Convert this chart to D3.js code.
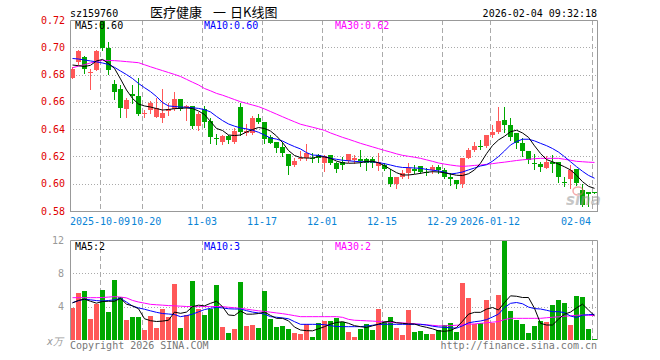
<!DOCTYPE html>
<html lang="zh">
<head>
    <meta charset="UTF-8">
    <title>sz159760</title>
    <script src="https://d3js.org/d3.v7.min.js"></script>
    <style>
        body { margin: 0; background: #fff; }
        text { font-family: "DejaVu Sans Mono", monospace; font-size: 10px; }
        .grid-h { stroke: #aaa; stroke-dasharray: 1,2; }
        .grid-v { stroke: #aaa; stroke-dasharray: 5,3; }
        .frame { fill: none; stroke: #999; }
        .ma { fill: none; stroke-width: 1; }
    </style>
</head>
<body>
<script>

    // trading days shown
    var dates = ["2025-09-24","2025-09-25","2025-09-26","2025-09-29","2025-09-30",
        "2025-10-09","2025-10-10","2025-10-13","2025-10-14","2025-10-15","2025-10-16","2025-10-17",
        "2025-10-20","2025-10-21","2025-10-22","2025-10-23","2025-10-24","2025-10-27","2025-10-28",
        "2025-10-29","2025-10-30","2025-10-31","2025-11-03","2025-11-04","2025-11-05","2025-11-06",
        "2025-11-07","2025-11-10","2025-11-11","2025-11-12","2025-11-13","2025-11-14","2025-11-17",
        "2025-11-18","2025-11-19","2025-11-20","2025-11-21","2025-11-24","2025-11-25","2025-11-26",
        "2025-11-27","2025-11-28","2025-12-01","2025-12-02","2025-12-03","2025-12-04","2025-12-05",
        "2025-12-08","2025-12-09","2025-12-10","2025-12-11","2025-12-12","2025-12-15","2025-12-16",
        "2025-12-17","2025-12-18","2025-12-19","2025-12-22","2025-12-23","2025-12-24","2025-12-25",
        "2025-12-26","2025-12-29","2025-12-30","2025-12-31","2026-01-05","2026-01-06","2026-01-07",
        "2026-01-08","2026-01-09","2026-01-12","2026-01-13","2026-01-14","2026-01-15","2026-01-16",
        "2026-01-19","2026-01-20","2026-01-21","2026-01-22","2026-01-23","2026-01-26","2026-01-27",
        "2026-01-28","2026-01-29","2026-01-30","2026-02-02","2026-02-03","2026-02-04"];

    var open = [.6775,.6889,.6931,.6810,.6834,.7193,.6995,.6729,.6694,.6546,.6658,.6643,.6509,.6540,
        .6487,.6480,.6533,.6546,.6619,.6560,.6570,.6425,.6546,.6462,.6333,.6308,.6350,.6308,.6565,
        .6370,.6370,.6484,.6450,.6345,.6308,.6271,.6218,.6137,.6179,.6186,.6191,.6210,.6154,.6210,
        .6154,.6161,.6167,.6174,.6179,.6179,.6179,.6130,.6137,.6051,.6000,.6051,.6081,.6106,.6130,
        .6088,.6101,.6125,.6101,.6051,.6027,.6000,.6191,.6247,.6277,.6277,.6357,.6381,.6467,.6430,
        .6370,.6296,.6240,.6154,.6142,.6117,.6161,.6157,.6015,.6032,.6106,.5954,.5942,.5940];
    var high = [.6858,.6980,.6939,.6839,.6980,.7200,.7040,.6760,.6724,.6630,.6724,.6777,.6541,.6606,
        .6626,.6692,.6594,.6675,.6619,.6577,.6570,.6528,.6570,.6480,.6362,.6357,.6357,.6406,.6592,
        .6438,.6496,.6511,.6455,.6357,.6308,.6308,.6218,.6186,.6242,.6291,.6227,.6218,.6210,.6210,
        .6161,.6198,.6218,.6210,.6247,.6186,.6198,.6227,.6154,.6106,.6051,.6101,.6150,.6137,.6130,
        .6113,.6137,.6137,.6113,.6076,.6027,.6191,.6260,.6308,.6321,.6357,.6430,.6560,.6565,.6480,
        .6370,.6333,.6240,.6218,.6161,.6205,.6210,.6157,.6051,.6137,.6106,.6000,.5942,.5942];
    var low = [.6773,.6880,.6814,.6694,.6830,.6980,.6804,.6620,.6491,.6491,.6594,.6504,.6491,.6520,
        .6487,.6455,.6504,.6540,.6540,.6467,.6406,.6394,.6418,.6301,.6289,.6289,.6296,.6301,.6357,
        .6357,.6365,.6447,.6296,.6296,.6235,.6203,.6071,.6130,.6174,.6174,.6161,.6161,.6095,.6145,
        .6088,.6106,.6159,.6154,.6130,.6101,.6125,.6101,.6101,.5986,.5969,.6039,.6044,.6076,.6076,
        .6064,.6081,.6076,.6039,.5991,.5969,.5974,.6186,.6242,.6252,.6272,.6345,.6374,.6381,.6321,
        .6260,.6203,.6150,.6106,.6095,.6117,.6088,.6015,.5986,.5969,.5990,.5837,.5837,.5935];
    var close = [.6840,.6973,.6839,.6822,.6973,.6995,.6834,.6675,.6552,.6614,.6645,.6511,.6521,.6594,
        .6557,.6521,.6546,.6619,.6546,.6570,.6425,.6511,.6455,.6345,.6326,.6350,.6321,.6387,.6376,
        .6389,.6484,.6455,.6328,.6301,.6264,.6223,.6130,.6167,.6191,.6227,.6179,.6191,.6203,.6154,
        .6106,.6137,.6218,.6191,.6167,.6154,.6154,.6161,.6106,.6000,.6051,.6076,.6113,.6093,.6088,
        .6076,.6125,.6101,.6051,.6032,.6000,.6191,.6247,.6277,.6271,.6357,.6381,.6462,.6430,.6345,
        .6296,.6242,.6174,.6145,.6120,.6161,.6145,.6051,.6003,.6101,.6003,.5844,.5922,.5937];

    // price moving averages
    var ma5 = [.6870,.6865,.6859,.6868,.6900,.6911,.6881,.6845,.6768,.6687,.6625,.6584,.6570,.6562,
        .6551,.6540,.6544,.6550,.6553,.6555,.6551,.6533,.6507,.6456,.6405,.6390,.6357,.6353,.6357,
        .6379,.6397,.6412,.6405,.6386,.6350,.6302,.6243,.6207,.6191,.6188,.6188,.6199,.6196,.6186,
        .6166,.6153,.6150,.6151,.6154,.6163,.6165,.6153,.6132,.6106,.6081,.6064,.6064,.6069,.6076,
        .6084,.6088,.6086,.6080,.6071,.6062,.6060,.6073,.6101,.6150,.6220,.6280,.6321,.6348,.6381,
        .6392,.6372,.6340,.6278,.6222,.6177,.6161,.6144,.6124,.6101,.6062,.6015,.5981,.5966];
    var ma10 = [.6918,.6914,.6907,.6900,.6893,.6885,.6874,.6853,.6826,.6800,.6771,.6735,.6704,.6675,
        .6639,.6595,.6570,.6566,.6562,.6560,.6557,.6552,.6543,.6526,.6493,.6463,.6438,.6422,.6409,
        .6402,.6392,.6377,.6357,.6335,.6327,.6313,.6291,.6272,.6255,.6228,.6210,.6208,.6199,.6186,
        .6179,.6172,.6168,.6164,.6161,.6161,.6160,.6155,.6147,.6137,.6126,.6119,.6118,.6115,.6113,
        .6105,.6099,.6094,.6084,.6071,.6077,.6086,.6101,.6115,.6130,.6139,.6165,.6199,.6240,.6284,
        .6309,.6326,.6326,.6314,.6296,.6279,.6258,.6232,.6198,.6161,.6125,.6091,.6061,.6040];
    var ma30 = [.6850,.6862,.6873,.6885,.6897,.6905,.6903,.6902,.6899,.6895,.6891,.6887,.6872,.6857,
        .6843,.6829,.6815,.6801,.6786,.6765,.6744,.6724,.6698,.6681,.6662,.6649,.6633,.6617,.6601,
        .6589,.6577,.6565,.6548,.6529,.6510,.6491,.6472,.6454,.6436,.6425,.6414,.6403,.6391,.6372,
        .6356,.6340,.6326,.6311,.6296,.6283,.6270,.6257,.6244,.6232,.6219,.6208,.6201,.6194,.6186,
        .6175,.6164,.6152,.6144,.6137,.6131,.6127,.6130,.6134,.6137,.6142,.6147,.6153,.6158,.6164,
        .6170,.6175,.6179,.6183,.6186,.6186,.6186,.6186,.6179,.6172,.6164,.6161,.6158,.6156];

    // volume (万) and its moving averages
    var volume = [3.88,5.68,5.88,2.52,4.32,6.00,3.36,7.20,5.20,2.40,2.76,2.76,1.20,2.88,1.44,3.72,
        2.76,6.72,1.44,3.00,7.08,3.72,3.00,3.72,6.60,1.56,0.84,1.32,6.96,1.68,1.80,1.44,5.88,2.52,
        1.56,1.68,1.32,0.84,0.72,1.88,0.36,2.04,2.28,2.28,2.64,2.16,0.96,0.36,1.32,1.92,1.20,3.72,
        2.28,2.76,1.44,0.60,3.60,0.96,1.08,0.72,0.72,1.20,1.80,2.04,0.96,6.84,5.04,1.92,2.04,4.80,
        2.04,5.40,11.88,3.48,2.40,1.92,0.84,1.68,2.28,2.12,4.20,4.80,4.44,1.80,5.28,5.16,1.32,0.12];
    var vma5 = [4.45,4.75,4.90,4.65,4.42,4.62,4.65,4.65,5.00,4.30,4.10,3.75,2.55,2.32,2.22,2.27,
        2.37,3.35,3.20,3.35,4.00,4.18,4.10,4.40,4.65,4.00,3.00,2.94,3.48,3.10,3.10,3.18,3.35,2.95,
        2.60,2.60,2.30,1.55,1.20,1.12,1.10,1.35,1.60,1.90,2.10,2.20,2.00,1.72,1.60,1.50,1.70,1.90,
        2.14,2.28,2.07,2.00,1.93,1.92,1.68,1.52,1.34,1.10,1.05,1.13,1.50,2.25,3.10,3.32,3.32,3.70,
        3.90,3.60,4.50,5.30,5.25,5.10,5.10,3.80,2.00,1.80,1.80,2.50,3.10,3.35,3.85,4.30,3.60,2.90];
    var vma10 = [4.48,4.72,4.90,4.82,4.73,4.68,4.74,4.82,5.00,4.55,4.07,3.85,3.69,3.50,3.32,3.18,
        3.12,3.05,2.80,2.92,3.10,3.38,3.65,3.80,3.92,3.85,3.75,3.72,3.72,3.52,3.35,3.25,3.10,2.80,
        2.73,2.65,2.55,2.20,1.88,1.88,1.88,1.88,1.84,1.72,1.62,1.60,1.60,1.60,1.60,1.68,1.77,1.86,
        1.89,1.89,1.88,1.88,1.88,1.88,1.88,1.80,1.66,1.56,1.52,1.47,1.42,1.70,2.06,2.19,2.28,2.44,
        2.76,3.10,3.90,4.40,4.50,4.35,3.95,3.77,3.72,3.57,3.40,3.40,3.28,2.88,2.70,2.98,3.04,3.08];
    var vma30 = [5.08,5.08,5.08,5.08,5.08,5.10,5.15,5.20,5.15,5.05,4.75,4.56,4.42,4.28,4.23,4.18,
        4.13,4.10,4.06,4.02,4.00,4.00,4.01,4.01,4.02,4.00,3.93,3.87,3.80,3.70,3.60,3.50,3.43,3.34,
        3.25,3.16,3.05,2.92,2.80,2.80,2.80,2.80,2.80,2.80,2.80,2.72,2.48,2.37,2.34,2.30,2.27,2.22,
        2.17,2.12,2.08,2.05,2.01,1.95,1.89,1.82,1.76,1.70,1.70,1.73,1.77,1.82,1.88,1.93,2.00,2.07,
        2.14,2.21,2.45,2.60,2.60,2.60,2.60,2.60,2.60,2.67,2.73,2.78,2.85,2.90,2.97,3.00,2.96,2.93];

    var priceTicks = [0.58, 0.60, 0.62, 0.64, 0.66, 0.68, 0.70, 0.72];
    var volTicks = [4, 8, 12];
    var tickDates = ["2025-10-09","2025-10-20","2025-11-03","2025-11-17","2025-12-01",
        "2025-12-15","2025-12-29","2026-01-12","2026-02-04"];
    var tickLabels = ["2025-10-09","10-20","11-03","11-17","12-01","12-15","12-29","2026-01-12","02-04"];

    var upColor = "#ff5858", downColor = "#00a800";

    // panel geometry
    var left = 70, right = 597;
    var pTop = 20, pBottom = 211;
    var vTop = 240, vBottom = 340;

    var svg = d3.select("body").append("svg")
        .attr("width", 660)
        .attr("height", 360);

    svg.append("rect").attr("width", 660).attr("height", 360).attr("fill", "#fff");

    var x = d3.scaleBand()
        .domain(dates)
        .range([left, right])
        .paddingInner(1 / 6)
        .paddingOuter(0);

    var y = d3.scaleLinear().domain([0.58, 0.72]).range([pBottom, pTop]);
    var yv = d3.scaleLinear().domain([0, 12]).range([vBottom, vTop]);

    var mid = function(i) { return x(dates[i]) + 2.5; };
    var px = function(v) { return Math.round(v) + 0.5; };

    // horizontal grid
    svg.append("g").selectAll("line")
        .data(priceTicks.slice(1, -1))
        .join("line")
        .attr("class", "grid-h")
        .attr("x1", left).attr("x2", right)
        .attr("y1", function(d) { return px(y(d)); })
        .attr("y2", function(d) { return px(y(d)); });

    svg.append("g").selectAll("line")
        .data(volTicks.slice(0, -1))
        .join("line")
        .attr("class", "grid-h")
        .attr("x1", left).attr("x2", right)
        .attr("y1", function(d) { return px(yv(d)); })
        .attr("y2", function(d) { return px(yv(d)); });

    // vertical grid through both panels
    var vg = svg.append("g");
    [[pTop, pBottom], [vTop, vBottom]].forEach(function(r) {
        vg.append("g").selectAll("line")
            .data(tickDates)
            .join("line")
            .attr("class", "grid-v")
            .attr("x1", function(d) { return x(d) + 0.5; })
            .attr("x2", function(d) { return x(d) + 0.5; })
            .attr("y1", r[0]).attr("y2", r[1]);
    });

    // candles
    var idx = d3.range(dates.length);
    var candles = svg.append("g").selectAll("g")
        .data(idx)
        .join("g")
        .attr("fill", function(i) { return close[i] >= open[i] ? upColor : downColor; })
        .attr("stroke", function(i) { return close[i] >= open[i] ? upColor : downColor; });

    candles.append("line")
        .attr("x1", mid).attr("x2", mid)
        .attr("y1", function(i) { return Math.round(y(high[i])); })
        .attr("y2", function(i) { return Math.round(y(low[i])) + 1; });

    candles.append("rect")
        .attr("stroke", "none")
        .attr("x", function(i) { return x(dates[i]); })
        .attr("width", x.bandwidth())
        .attr("y", function(i) { return Math.round(y(Math.max(open[i], close[i]))); })
        .attr("height", function(i) {
            return Math.max(1, Math.round(y(Math.min(open[i], close[i]))) - Math.round(y(Math.max(open[i], close[i]))));
        });

    // price MA lines
    var pline = function(arr) {
        return d3.line().x(function(d, i) { return mid(i); }).y(function(d) { return y(d); })(arr);
    };
    [[ma30, "#ff00ff"], [ma10, "#0000ff"], [ma5, "#000"]].forEach(function(m) {
        svg.append("path").attr("class", "ma").attr("stroke", m[1]).attr("d", pline(m[0]));
    });

    // volume bars
    svg.append("g").selectAll("rect")
        .data(idx)
        .join("rect")
        .attr("fill", function(i) { return close[i] >= open[i] ? upColor : downColor; })
        .attr("x", function(i) { return x(dates[i]); })
        .attr("width", x.bandwidth())
        .attr("y", function(i) { return Math.round(yv(volume[i])); })
        .attr("height", function(i) { return vBottom - Math.round(yv(volume[i])); });

    var vline = function(arr) {
        return d3.line().x(function(d, i) { return mid(i); }).y(function(d) { return yv(d); })(arr);
    };
    [[vma30, "#ff00ff"], [vma10, "#0000ff"], [vma5, "#000"]].forEach(function(m) {
        svg.append("path").attr("class", "ma").attr("stroke", m[1]).attr("d", vline(m[0]));
    });

    // sina watermark
    var wm = svg.append("g").attr("opacity", 0.55);
    wm.append("ellipse").attr("cx", 578).attr("cy", 191).attr("rx", 5).attr("ry", 4)
        .attr("fill", "none").attr("stroke", "#e66").attr("stroke-width", 1.5);
    wm.append("text").attr("x", 566).attr("y", 205)
        .style("font-family", "DejaVu Sans").style("font-size", "15px")
        .style("font-weight", "bold").style("font-style", "italic")
        .attr("fill", "#999").text("sina");

    // frames
    svg.append("path").attr("class", "frame")
        .attr("d", "M" + (left + 0.5) + "," + pBottom + "V" + (pTop + 0.5) + "H" + (right + 0.5) + "V" + pBottom);
    svg.append("line").attr("class", "frame")
        .attr("x1", left).attr("x2", right + 1).attr("y1", pBottom + 0.5).attr("y2", pBottom + 0.5);
    svg.append("path").attr("class", "frame")
        .attr("d", "M" + (left + 0.5) + "," + vBottom + "V" + (vTop + 0.5) + "H" + (right + 0.5) + "V" + vBottom);

    // price axis labels
    svg.append("g").selectAll("text")
        .data(priceTicks)
        .join("text")
        .attr("x", 65)
        .attr("y", function(d) { return y(d); })
        .attr("dy", "0.35em")
        .attr("text-anchor", "end")
        .attr("fill", "#e00000")
        .text(function(d) { return d3.format(".2f")(d); });

    // volume axis labels
    svg.append("g").selectAll("text")
        .data(volTicks)
        .join("text")
        .attr("x", 64)
        .attr("y", function(d) { return yv(d); })
        .attr("dy", "0.35em")
        .attr("text-anchor", "end")
        .attr("fill", "#999")
        .text(function(d) { return d; });

    // date labels, pushed right when they would run into the previous one
    var lastEnd = -Infinity;
    svg.append("g").selectAll("text")
        .data(tickDates)
        .join("text")
        .attr("y", 225)
        .attr("fill", "#0a84d6")
        .text(function(d, i) { return tickLabels[i]; })
        .each(function(d, i) {
            var w = this.getComputedTextLength();
            var sx = i === tickDates.length - 1 ? x(d) - 1 - w : x(d) - w / 2;
            if (sx < lastEnd + 1) sx = lastEnd + 1;
            lastEnd = sx + w;
            d3.select(this).attr("x", sx);
        });

    // headers
    svg.append("text").attr("x", 70).attr("y", 17).attr("fill", "#000").text("sz159760");
    var title = svg.append("text").attr("y", 17)
        .style("font-family", "'Noto Sans CJK SC', sans-serif").style("font-size", "13px")
        .attr("fill", "#000");
    title.append("tspan").attr("x", 150).text("医疗健康");
    title.append("tspan").attr("x", 213).text("一");
    title.append("tspan").attr("x", 230).text("日K线图");
    svg.append("text").attr("x", 597).attr("y", 17).attr("text-anchor", "end")
        .attr("fill", "#000").text("2026-02-04 09:32:18");

    var legend = function(yy, vals) {
        svg.append("text").attr("x", 75).attr("y", yy).attr("fill", "#000").text("MA5:" + vals[0]);
        svg.append("text").attr("x", 204).attr("y", yy).attr("fill", "#0000ff").text("MA10:" + vals[1]);
        svg.append("text").attr("x", 335).attr("y", yy).attr("fill", "#ff00ff").text("MA30:" + vals[2]);
    };
    legend(29, ["0.60", "0.60", "0.62"]);
    legend(250, ["2", "3", "2"]);

    svg.append("text").attr("x", 63).attr("y", 345).attr("text-anchor", "end")
        .attr("fill", "#999").style("font-style", "italic").text("x万");
    svg.append("text").attr("x", 70).attr("y", 349).attr("fill", "#777").text("Copyright 2026 SINA.COM");
    svg.append("text").attr("x", 597).attr("y", 349).attr("text-anchor", "end")
        .attr("fill", "#777").text("http://finance.sina.com.cn");

</script>
</body>
</html>
